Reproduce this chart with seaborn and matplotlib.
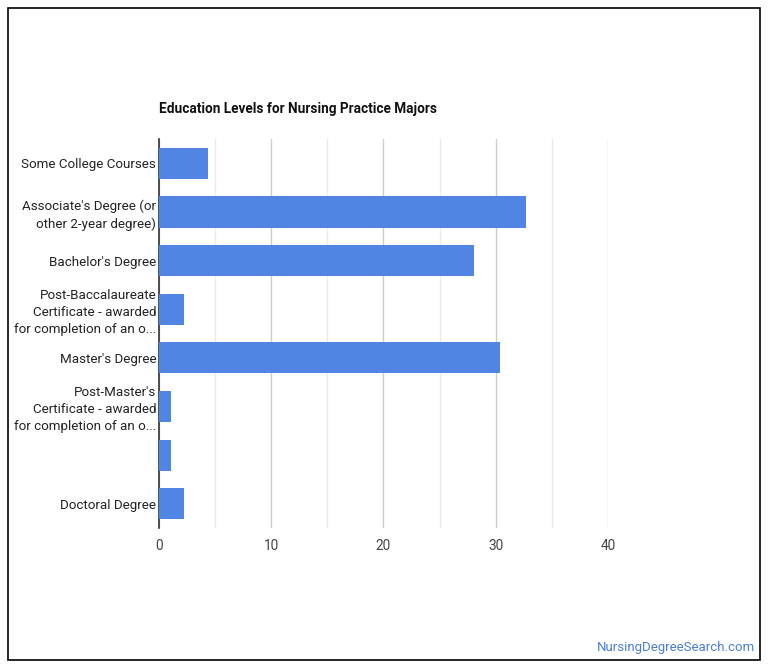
import numpy as np
import pandas as pd
import seaborn as sns
from matplotlib import pyplot as plt
from matplotlib.patches import Rectangle

sns.set_style("white")
plt.rcParams['font.family'] = ['Roboto', 'DejaVu Sans']

levels = ["Some College Courses",
          "Associate's Degree (or\nother 2-year degree)",
          "Bachelor's Degree",
          "Post-Baccalaureate\nCertificate - awarded\nfor completion of an o...",
          "Master's Degree",
          "Post-Master's\nCertificate - awarded\nfor completion of an o...",
          "",
          "Doctoral Degree"]
percent = [4.4, 32.7, 28.1, 2.2, 30.4, 1.1, 1.1, 2.2]

df = pd.DataFrame({'Level': levels, 'Percent': percent})

fig = plt.figure(figsize=(7.7, 6.7), dpi=100)
ax = fig.add_axes([0.2065, 0.2119, 0.583, 0.5806])

sns.barplot(data=df, x='Percent', y='Level', orient='h', color='#5185e4',
            saturation=1, width=0.64, linewidth=0, ax=ax, zorder=3)

ax.set_xlim(0, 40)
ax.set_xticks([0, 10, 20, 30, 40])
ax.set_xticks([5, 15, 25, 35], minor=True)
ax.grid(axis='x', which='major', color='#cccccc', linewidth=1, zorder=0)
ax.grid(axis='x', which='minor', color='#ebebeb', linewidth=1, zorder=0)
ax.set_axisbelow(True)
for s in ['top', 'right', 'bottom']:
    ax.spines[s].set_visible(False)
ax.spines['left'].set_color('#333333')
ax.spines['left'].set_linewidth(1.2)
ax.tick_params(axis='both', which='both', length=0)
ax.tick_params(axis='y', labelsize=9.6, colors='#222222', pad=2)
ax.tick_params(axis='x', labelsize=9.8, colors='#444444', pad=8)
for lab in ax.get_yticklabels():
    lab.set_linespacing(1.4)
ax.set_xlabel('')
ax.set_ylabel('')

fig.text(159 / 770, 1 - 109 / 670, "Education Levels for Nursing Practice Majors",
         fontsize=9.8, fontweight='bold', color='#111111', va='center', ha='left')
fig.text(755 / 770, 1 - 647 / 670, "NursingDegreeSearch.com", fontsize=9.5,
         color='#4a7fd4', ha='right', va='center')

fig.patches.append(Rectangle((8 / 770, 1 - 660 / 670), 752 / 770, 652 / 670,
                             transform=fig.transFigure, fill=False,
                             edgecolor='black', linewidth=1.2))

plt.savefig('out.png', dpi=100)
